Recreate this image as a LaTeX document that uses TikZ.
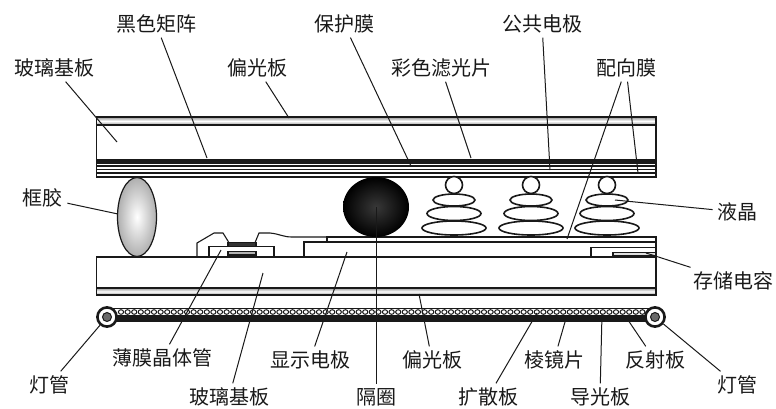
\documentclass[tikz,border=0pt]{standalone}
\usepackage{fontspec}
\usepackage{tikz}
\newfontfamily\cjk{Noto Sans CJK SC}
\definecolor{inkblack}{RGB}{25,25,25}
\definecolor{polgray}{RGB}{150,150,150}
\definecolor{coregray}{RGB}{105,105,105}
\definecolor{sealgray}{RGB}{175,175,175}
\tikzset{
    % Layer styles
    layer/.style={draw=inkblack, line width=0.6pt, fill=white},
    polarizer/.style={draw=inkblack, line width=0.6pt,
        top color=polgray, bottom color=polgray, middle color=white},
    thinline/.style={draw=inkblack, line width=0.55pt},
    lcdisk/.style={draw=inkblack, line width=0.8pt, fill=white},
    lamp/.style={circle, draw=inkblack, line width=1.3pt, fill=white,
        minimum size=9.6pt, inner sep=0pt},
    % Callout styles
    partname/.style={font=\fontsize{10}{12}\selectfont\cjk, text=inkblack, inner sep=2pt},
    leader/.style={draw=inkblack, line width=0.5pt}
}

\begin{document}
\begin{tikzpicture}[x=0.5pt,y=-0.5pt]
\useasboundingbox (0,0) rectangle (776,408);

% Upper substrate with colour filter stack
\draw[layer] (96.5,117) rectangle (656,177);
\shade[polarizer] (96.5,117) rectangle (656,125);
\fill[inkblack] (96.5,158.5) rectangle (656,163.5);
\foreach \yy in {166,169.5,173}
    \draw[thinline] (96.5,\yy) -- (656,\yy);

% Lower substrate
\draw[layer] (96.5,257) rectangle (656,288);
\shade[polarizer] (96.5,288) rectangle (656,295);

% Pixel electrode and alignment layer
\draw[layer] (304,242) rectangle (656,257);
\draw[layer] (327,237) rectangle (656,242);
\draw[thinline] (591,257) -- (591,247.5) -- (656,247.5);
\draw[thinline, fill=gray!25] (613,252.5) rectangle (656,256);

% Thin film transistor
\draw[layer] (209,246.7) rectangle (274,256.5);
\draw[thinline, fill=gray!60] (228,251.5) rectangle (256,255);
\draw[thinline, fill=black!80] (228,242.7) rectangle (256,246.7);
\draw[thinline] (197,257) -- (197,243) -- (214,233) -- (223,233) -- (229,242.7);
\draw[thinline] (255,242.7) -- (259,233) -- (270,233)
    .. controls (280,234) and (283,237) .. (292,237) -- (327,237);

% Sealant and spacer
\shade[draw=inkblack, line width=0.6pt, inner color=white, outer color=sealgray]
    (137,217) ellipse [x radius=19.5, y radius=39.5];
\coordinate (pSeal) at (118,214);
\coordinate (spacer) at (376,207);
\shade[inner color=black!78, outer color=black] (spacer) ellipse [x radius=33, y radius=30];

% Liquid crystal molecules
\foreach \cx in {454,531,607} {
    \draw[lcdisk] (\cx,185) circle [radius=8.5];
    \draw[lcdisk] (\cx,200) ellipse [x radius=21, y radius=6];
    \draw[lcdisk] (\cx,213.5) ellipse [x radius=27, y radius=7];
    \draw[lcdisk] (\cx,228) ellipse [x radius=32, y radius=7];
}

% Backlight: diffuser, prism sheet, light guide, reflector
\draw[inkblack, line width=0.8pt] (110,308.5) -- (652,308.5);
\foreach \i in {0,...,79}
    \draw[inkblack, line width=0.5pt, fill=white] (121+\i*6.6,312) ellipse [x radius=2.6, y radius=2.3];
\fill[inkblack] (110,315) rectangle (652,321.5);

% Lamps
\node[lamp] (lampL) at (107,317) {};
\node[lamp] (lampR) at (655,317) {};
\foreach \lp in {lampL,lampR}
    \draw[inkblack, line width=0.5pt, fill=coregray] (\lp) circle [radius=4.5];

% Leader end points
\coordinate (pTGlass) at (117,142);
\coordinate (pBM) at (207,158);
\coordinate (pTPol) at (289,118);
\coordinate (pProt) at (411,166);
\coordinate (pCF) at (471,158);
\coordinate (pCom) at (550,170);
\coordinate (pAlignT) at (638,173);
\coordinate (pAlignB) at (567,239);
\coordinate (pLC) at (615,200);
\coordinate (pCap) at (646,253);
\coordinate (pTFT) at (221,250);
\coordinate (pBGlass) at (263,273);
\coordinate (pPix) at (347,252);
\coordinate (pBPol) at (419,294);
\coordinate (pDiff) at (537,313);
\coordinate (pPrism) at (567,315);
\coordinate (pGuide) at (602,314);
\coordinate (pRefl) at (628,320);

% Upper callouts
\node[partname] (lBM) at (156,24) {黑色矩阵};
\node[partname] (lProt) at (344,24) {保护膜};
\node[partname] (lCom) at (542,24) {公共电极};
\node[partname] (lTGlass) at (54,68) {玻璃基板};
\node[partname] (lTPol) at (257,68) {偏光板};
\node[partname] (lCF) at (441,68) {彩色滤光片};
\node[partname] (lAlign) at (626,68) {配向膜};
\draw[leader] (lBM) -- (pBM);
\draw[leader] (lProt) -- (pProt);
\draw[leader] (lCom) -- (pCom);
\draw[leader] (lTGlass) -- (pTGlass);
\draw[leader] (lTPol) -- (pTPol);
\draw[leader] (lCF) -- (pCF);
\draw[leader] (lAlign) -- (pAlignT);
\draw[leader] (lAlign) -- (pAlignB);

% Side callouts
\node[partname] (lSeal) at (43,198) {框胶};
\node[partname] (lLC) at (737,212) {液晶};
\node[partname] (lCap) at (733,281) {存储电容};
\draw[leader] (lSeal) -- (pSeal);
\draw[leader] (lLC) -- (pLC);
\draw[leader] (lCap) -- (pCap);

% Lower callouts
\node[partname] (lLampL) at (49,385) {灯管};
\node[partname] (lLampR) at (737,385) {灯管};
\node[partname] (lTFT) at (162,358) {薄膜晶体管};
\node[partname] (lBGlass) at (229,397) {玻璃基板};
\node[partname] (lPix) at (310,360) {显示电极};
\node[partname] (lSpacer) at (376,397) {隔圈};
\node[partname] (lBPol) at (432,360) {偏光板};
\node[partname] (lDiff) at (488,397) {扩散板};
\node[partname] (lPrism) at (554,360) {棱镜片};
\node[partname] (lGuide) at (600,397) {导光板};
\node[partname] (lRefl) at (655,360) {反射板};
\draw[leader] (lLampL) -- (lampL);
\draw[leader] (lLampR) -- (lampR);
\draw[leader] (lTFT) -- (pTFT);
\draw[leader] (lBGlass) -- (pBGlass);
\draw[leader] (lPix) -- (pPix);
\draw[leader] (lSpacer) -- (spacer);
\draw[leader] (lBPol) -- (pBPol);
\draw[leader] (lDiff) -- (pDiff);
\draw[leader] (lPrism) -- (pPrism);
\draw[leader] (lGuide) -- (pGuide);
\draw[leader] (lRefl) -- (pRefl);

\end{tikzpicture}
\end{document}
